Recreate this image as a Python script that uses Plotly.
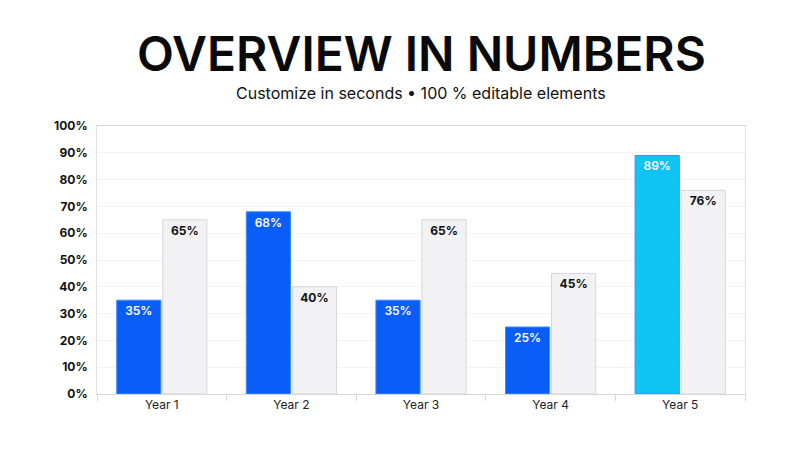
import plotly.graph_objects as go

# Werte aus dem Bild
years = ["Year 1", "Year 2", "Year 3", "Year 4", "Year 5"]
serie_a = [35, 68, 35, 25, 89]
serie_b = [65, 40, 65, 45, 76]
farben_a = ["#0a5df7", "#0a5df7", "#0a5df7", "#0a5df7", "#0fc3f2"]

# Seite hat 8px body-Rand, daher Ränder etwas kleiner
M_L, M_R, M_T, M_B = 89, 63, 118, 64
plot_h = 450 - M_T - M_B

def py(pixel_y):
    # Bildschirm-y in paper-Koordinaten
    return 1 + (M_T - (pixel_y - 8)) / plot_h

fig = go.Figure()

fig.add_trace(go.Bar(
    x=years, y=serie_a,
    marker=dict(color=farben_a, line=dict(color="#3b8cfa", width=1)),
    text=[f"{v}%" for v in serie_a],
    textposition="inside", insidetextanchor="end",
    textfont=dict(color="white", size=12, family="Inter", weight=600),
))
fig.add_trace(go.Bar(
    x=years, y=serie_b,
    marker=dict(color="#f2f1f4", line=dict(color="#d6d6da", width=1)),
    text=[f"{v}%" for v in serie_b],
    textposition="inside", insidetextanchor="end",
    textfont=dict(color="#111111", size=12, family="Inter", weight=700),
))

fig.update_layout(
    width=800, height=450,
    margin=dict(l=M_L, r=M_R, t=M_T, b=M_B),
    paper_bgcolor="white", plot_bgcolor="white",
    barmode="group", bargap=0.29, bargroupgap=0.04,
    showlegend=False,
    font=dict(family="Inter", color="#111111"),
    uniformtext=dict(minsize=12, mode="show"),
)

fig.update_yaxes(
    range=[0, 100], dtick=10, ticksuffix="%",
    showgrid=True, gridcolor="#f3f3f5", gridwidth=1,
    showline=True, linecolor="#e2e2e6", mirror=True,
    zeroline=False,
    tickfont=dict(size=12, weight=700, color="#111111"),
    ticks="", ticklabelstandoff=6,
)
fig.update_xaxes(
    showgrid=False,
    showline=True, linecolor="#d6d6da", mirror=True,
    ticks="outside", tickson="boundaries", ticklen=6, tickcolor="#d6d6da",
    tickfont=dict(size=12, color="#222222"),
)

fig.add_annotation(
    text="OVERVIEW IN NUMBERS", x=0.5, y=py(53), xref="paper", yref="paper",
    xanchor="center", yanchor="middle", showarrow=False,
    font=dict(size=48, family="Inter", weight=600, color="#0a0a0a"),
)
fig.add_annotation(
    text="Customize in seconds • 100 % editable elements",
    x=0.5, y=py(93), xref="paper", yref="paper",
    xanchor="center", yanchor="middle", showarrow=False,
    font=dict(size=16, family="Inter", color="#111111"),
)

fig.write_html("out.html")
